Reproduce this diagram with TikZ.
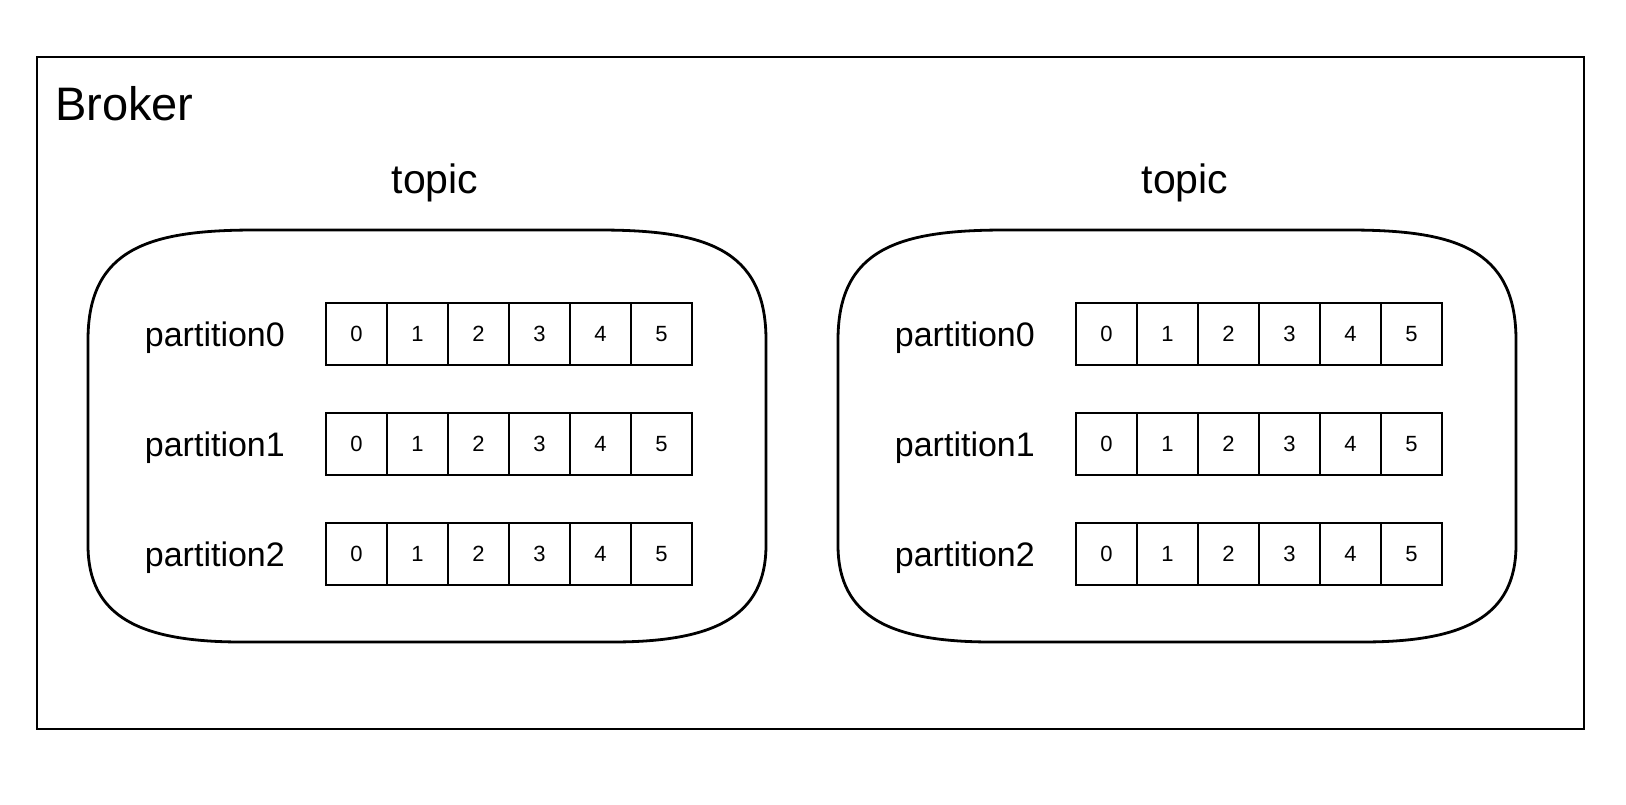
\documentclass[tikz,border=0pt]{standalone}
\usepackage{fontspec}
\setmainfont{Liberation Sans}
\usepackage{tikz}
\usetikzlibrary{
  positioning,
  calc
}
\definecolor{linecolor}{RGB}{0, 0, 0}
\tikzset{
brokerbox/.style={
  draw=linecolor,
  line width=2.8pt
},
topicblob/.style={
  draw=linecolor,
  line width=2.8pt
},
cell/.style={
  draw=linecolor,
  line width=2.8pt,
  minimum width=61pt,
  minimum height=62pt,
  inner sep=0pt,
  outer sep=0pt,
  font=\fontsize{22}{26}\selectfont
},
partlabel/.style={
  inner sep=0pt,
  font=\fontsize{34}{40}\selectfont
},
topiclabel/.style={
  inner sep=0pt,
  font=\fontsize{41}{48}\selectfont
},
brokerlabel/.style={
  inner sep=0pt,
  font=\fontsize{47}{54}\selectfont
}
}
\begin{document}
\begin{tikzpicture}[x=1pt, y=-1pt]
  \useasboundingbox (0,0) rectangle (1626,804);

  % Broker frame
  \draw[brokerbox] (37,57) rectangle (1584,729);
  \node[brokerlabel, anchor=base west] (broker) at (55,120) {Broker};

  % Two topics, each with three partitions of six offsets
  \foreach \t/\dx in {L/0, R/750} {
    \begin{scope}[xshift=\dx pt]
      \draw[topicblob] (88,340) .. controls (88,248) and (150,230) .. (255,230)
        -- (599,230) .. controls (704,230) and (766,248) .. (766,340)
        -- (766,545) .. controls (766,618) and (712,642) .. (612,642)
        -- (242,642) .. controls (142,642) and (88,618) .. (88,545) -- cycle;
    \end{scope}
    \node[topiclabel, anchor=base] (topic-\t) at (435+\dx,193) {topic};

    \foreach \r/\y in {0/334, 1/444, 2/554} {
      \node[cell] (cell-\t-\r-0) at (356.5+\dx,\y) {0};
      \foreach \c [remember=\c as \p (initially 0)] in {1,...,5} {
        \node[cell, right=0pt of cell-\t-\r-\p] (cell-\t-\r-\c) {\c};
      }
      \node[partlabel, anchor=base east] (part-\t-\r)
        at ($(cell-\t-\r-0.west)+(-41,12)$) {partition\r};
    }
  }
\end{tikzpicture}
\end{document}
